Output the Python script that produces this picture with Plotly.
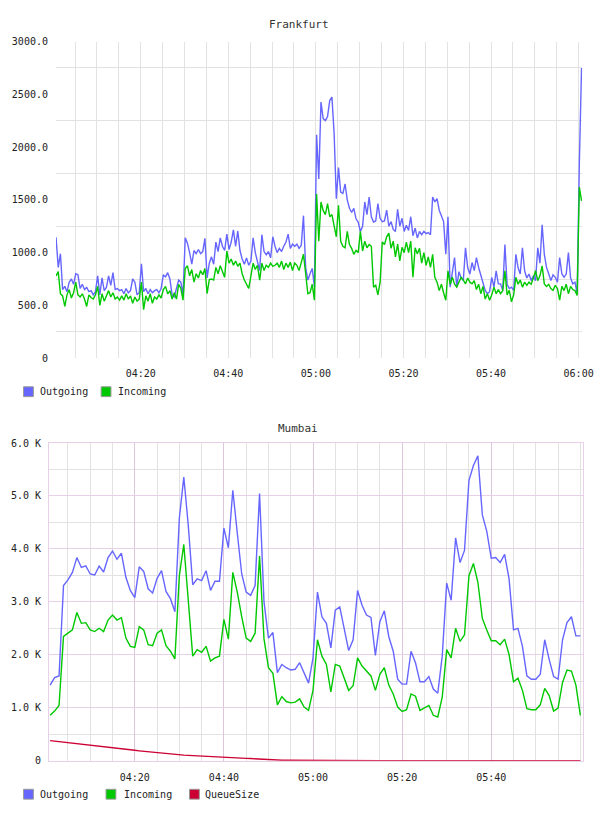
import pandas as pd
import plotly.graph_objects as go

# ---------------- data ----------------
FRA_START = "2024-01-01 04:00:40"   # 30 s samples
FRA_STEP = "30s"
fra_outgoing = [
    1145, 860, 990, 650, 680, 630, 720, 750, 700, 800,
    790, 660, 700, 650, 670, 630, 640, 600, 630, 780,
    600, 760, 640, 670, 780, 690, 810, 650, 660, 640,
    650, 610, 660, 620, 640, 750, 720, 600, 620, 895,
    630, 660, 610, 650, 620, 640, 650, 620, 660, 790,
    770, 810, 750, 600, 580, 650, 740, 720, 600, 1140,
    1090, 1000, 890, 1020, 990, 1030, 990, 1010, 1135, 760,
    900, 960, 890, 1100, 1010, 1140, 1060, 1020, 1175, 1030,
    1100, 1215, 1060, 1205, 1020, 940, 890, 950, 880, 920,
    1140, 1000, 920, 830, 1170, 1010, 980, 1010, 950, 1150,
    1060, 1000, 1040, 1010, 1060, 1100, 1175, 1040, 1080, 1060,
    1080, 1040, 1070, 1350, 860, 740, 800, 850, 674, 2116,
    1697, 2427, 2270, 2250, 2290, 2440, 2473, 2130, 1511, 1806,
    1573, 1560, 1650, 1500, 1420, 1380, 1420, 1320, 1290, 1200,
    1250, 1480, 1360, 1527, 1340, 1290, 1300, 1464, 1325, 1294,
    1300, 1402, 1250, 1294, 1220, 1201, 1410, 1250, 1325, 1201,
    1260, 1210, 1340, 1160, 1232, 1139, 1200, 1170, 1201, 1180,
    1190, 1170, 1527, 1480, 1511, 1402, 1350, 1294, 984, 1340,
    673, 800, 953, 673, 820, 760, 735, 1046, 859, 797,
    906, 830, 953, 859, 790, 735, 642, 611, 630, 766,
    673, 828, 704, 704, 642, 1077, 700, 660, 673, 642,
    984, 859, 797, 1046, 828, 760, 797, 735, 780, 735,
    1046, 900, 1263, 984, 860, 800, 735, 790, 766, 720,
    953, 800, 766, 797, 1000, 760, 704, 720, 611, 1850,
    2750,
]
fra_incoming = [
    780, 820, 610, 590, 490, 600, 650, 570, 620, 720,
    600, 580, 610, 560, 490, 600, 575, 560, 600, 680,
    500, 610, 540, 600, 640, 580, 620, 560, 580, 550,
    590, 550, 610, 560, 590, 520, 580, 540, 560, 720,
    460, 590, 540, 610, 520, 580, 560, 600, 570, 650,
    680, 610, 640, 560, 620, 560, 700, 660, 550, 850,
    875, 780, 840, 720, 800, 760, 830, 790, 850, 611,
    745, 750, 740, 860, 800, 875, 820, 766, 1015, 900,
    940, 880, 920, 870, 900, 800, 740, 700, 660, 780,
    900, 840, 880, 740, 900, 830, 880, 860, 900, 870,
    880, 900, 860, 920, 840, 900, 860, 910, 830, 900,
    880, 830, 900, 985, 800, 611, 620, 700, 549, 1555,
    1108, 1480, 1400, 1360, 1464, 1340, 1360, 1270, 1150, 1449,
    1108, 1060, 1046, 1201, 1077, 1040, 984, 1020, 1000, 1201,
    1015, 1108, 1046, 1077, 1060, 673, 690, 600, 720, 1100,
    1077, 1150, 1185, 1040, 1108, 960, 1080, 921, 1050, 1000,
    1100, 1000, 1108, 766, 1046, 990, 1040, 900, 1000, 880,
    960, 860, 984, 766, 720, 640, 700, 620, 549, 828,
    700, 766, 700, 673, 720, 766, 740, 704, 760, 720,
    704, 735, 650, 700, 611, 680, 560, 611, 549, 600,
    673, 611, 650, 611, 640, 828, 600, 642, 533, 600,
    766, 700, 740, 673, 720, 690, 720, 700, 760, 828,
    735, 780, 875, 704, 680, 700, 660, 642, 690, 660,
    549, 680, 640, 700, 611, 680, 650, 640, 595, 1620,
    1490,
]

MUM_START = "2024-01-01 04:01:00"   # 1 min samples
MUM_STEP = "1min"
mum_outgoing = [
    1428, 1570, 1601, 3309, 3414, 3557, 3836, 3650, 3681, 3526,
    3507, 3675, 3563, 3836, 3960, 3805, 3917, 3464, 3216, 3079,
    3662, 3575, 3247, 3166, 3445, 3588, 3197, 3060, 2812, 4580,
    5357, 4450, 3322, 3433, 3402, 3588, 3216, 3390, 3390, 4394,
    4022, 5108, 4301, 3526, 3184, 3122, 3309, 5046, 3000, 2315,
    2420, 1663, 1818, 1756, 1712, 1726, 1850, 1663, 1465, 1942,
    3184, 2718, 2594, 2129, 2843, 2905, 2470, 2079, 2284, 3215,
    2936, 2750, 2706, 1986, 2625, 2830, 2346, 2067, 1539, 1446,
    1446, 2067, 1850, 1490, 1490, 1589, 1353, 1273, 1974, 3353,
    3029, 4208, 3743, 3972, 5294, 5574, 5760, 4642, 4332, 3823,
    3836, 3743, 3898, 3433, 2470, 2500, 2160, 1601, 1539, 1539,
    1632, 2284, 1912, 1589, 1539, 2284, 2607, 2718, 2358, 2358,
]
mum_incoming = [
    857, 937, 1043, 2346, 2408, 2470, 2799, 2594, 2607, 2470,
    2439, 2501, 2439, 2656, 2749, 2656, 2700, 2315, 2160, 2141,
    2532, 2470, 2191, 2172, 2408, 2470, 2172, 2067, 1924, 3495,
    4084, 2950, 1974, 2098, 2048, 2160, 1880, 1942, 1974, 2669,
    2296, 3557, 3184, 2718, 2315, 2253, 2408, 3867, 2300, 1756,
    1650, 1055, 1210, 1117, 1092, 1105, 1167, 1012, 950, 1328,
    2284, 1974, 1818, 1297, 1818, 1787, 1539, 1328, 1415, 1942,
    1787, 1694, 1601, 1328, 1632, 1756, 1427, 1260, 1012, 931,
    962, 1260, 1217, 950, 994, 1043, 857, 825, 1198, 2098,
    1942, 2501, 2253, 2377, 3494, 3724, 3370, 2687, 2470, 2266,
    2266, 2191, 2296, 2005, 1490, 1558, 1328, 981, 962, 962,
    1055, 1366, 1229, 937, 994, 1477, 1713, 1694, 1427, 857,
]
mum_queuesize = [
    378, 369, 359, 350, 340, 331, 321, 312, 302, 293,
    283, 274, 264, 255, 245, 236, 226, 216, 206, 196,
    186, 177, 168, 159, 150, 140, 130, 120, 110, 106,
    104, 100, 95, 90, 84, 78, 72, 66, 61, 56,
    54, 52, 50, 48, 44, 40, 34, 28, 20, 14,
    10, 8, 8, 7, 6, 6, 5, 5, 4, 4,
    3, 3, 3, 2, 2, 2, 2, 1, 1, 1,
    1, 1, 1, 1, 1, 1, 1, 1, 1, 1,
    0, 0, 0, 0, 0, 0, 0, 0, 0, 0,
    0, 0, 0, 0, 0, 0, 0, 0, 0, 0,
    0, 0, 0, 0, 0, 0, 0, 0, 0, 0,
    0, 0, 0, 0, 0, 0, 0, 0, 0, 0,
]

fra_yticks = [0, 500, 1000, 1500, 2000, 2500, 3000]
fra_yticklabels = ["0", "500.0", "1000.0", "1500.0", "2000.0", "2500.0", "3000.0"]
fra_xticks = ["2024-01-01 04:20", "2024-01-01 04:40", "2024-01-01 05:00",
              "2024-01-01 05:20", "2024-01-01 05:40", "2024-01-01 06:00"]
fra_xticklabels = ["04:20", "04:40", "05:00", "05:20", "05:40", "06:00"]

mum_yticks = [0, 1000, 2000, 3000, 4000, 5000, 6000]
mum_yticklabels = ["0", "1.0 K", "2.0 K", "3.0 K", "4.0 K", "5.0 K", "6.0 K"]
mum_xticks = ["2024-01-01 04:20", "2024-01-01 04:40", "2024-01-01 05:00",
              "2024-01-01 05:20", "2024-01-01 05:40"]
mum_xticklabels = ["04:20", "04:40", "05:00", "05:20", "05:40"]

# ---------------- figure ----------------
W, H = 608, 816
BLUE, GREEN, RED = "#6666ff", "#00c800", "#cc0033"
MONO = "DejaVu Sans Mono"


def px(x):
    return x / W


def py(y):
    return 1 - y / H


fra_t = pd.date_range(FRA_START, periods=len(fra_outgoing), freq=FRA_STEP)
mum_t = pd.date_range(MUM_START, periods=len(mum_outgoing), freq=MUM_STEP)

fig = go.Figure()
fig.add_trace(go.Scatter(x=fra_t, y=fra_outgoing, mode="lines", name="Outgoing",
                         line=dict(color=BLUE, width=1.4), xaxis="x", yaxis="y", showlegend=False))
fig.add_trace(go.Scatter(x=fra_t, y=fra_incoming, mode="lines", name="Incoming",
                         line=dict(color=GREEN, width=1.4), xaxis="x", yaxis="y", showlegend=False))
fig.add_trace(go.Scatter(x=mum_t, y=mum_outgoing, mode="lines", name="Outgoing",
                         line=dict(color=BLUE, width=1.4), xaxis="x2", yaxis="y2", showlegend=False))
fig.add_trace(go.Scatter(x=mum_t, y=mum_incoming, mode="lines", name="Incoming",
                         line=dict(color=GREEN, width=1.4), xaxis="x2", yaxis="y2", showlegend=False))
fig.add_trace(go.Scatter(x=mum_t, y=mum_queuesize, mode="lines", name="QueueSize",
                         line=dict(color=RED, width=1.4), xaxis="x2", yaxis="y2", showlegend=False))

tickfont = dict(family=MONO, size=10, color="#222")
GRID = "#e2e2e2"
PINK_H = "#e8d0e8"
PINK_V = "#dcc6dc"

fig.update_layout(
    width=W, height=H,
    margin=dict(l=0, r=0, t=0, b=0),
    paper_bgcolor="white", plot_bgcolor="white",
    xaxis=dict(
        domain=[px(57), px(593)],
        type="date",
        range=["2024-01-01 04:00:39", "2024-01-01 06:00:50"],
        tickmode="array", tickvals=fra_xticks, ticktext=fra_xticklabels,
        ticks="outside", ticklen=6, tickcolor="rgba(0,0,0,0)",
        tickfont=tickfont, showgrid=True, gridcolor=GRID, gridwidth=1,
        minor=dict(dtick=300000, tick0="2024-01-01 04:00", showgrid=True,
                   gridcolor=GRID, gridwidth=1, ticks=""),
        showline=False, zeroline=False, anchor="y", fixedrange=True,
    ),
    yaxis=dict(
        domain=[py(358), py(37)],
        range=[0, 3000],
        tickmode="array", tickvals=fra_yticks, ticktext=fra_yticklabels,
        ticks="outside", ticklen=5, tickcolor="rgba(0,0,0,0)",
        tickfont=tickfont, showgrid=False,
        minor=dict(tickvals=[250, 750, 1250, 1750, 2250, 2750], showgrid=True,
                   gridcolor=GRID, gridwidth=1, ticks=""),
        showline=False, zeroline=False, anchor="x", fixedrange=True,
    ),
    xaxis2=dict(
        domain=[px(50), px(594)],
        type="date",
        range=["2024-01-01 04:00:46", "2024-01-01 06:00:39"],
        tickmode="array", tickvals=mum_xticks, ticktext=mum_xticklabels,
        ticks="outside", ticklen=7, tickcolor="rgba(0,0,0,0)",
        tickfont=tickfont, showgrid=True, gridcolor=PINK_V, gridwidth=1,
        minor=dict(dtick=300000, tick0="2024-01-01 04:00", showgrid=True,
                   gridcolor=GRID, gridwidth=1, ticks=""),
        showline=True, linecolor=PINK_H, linewidth=1, mirror=True,
        zeroline=False, anchor="y2", fixedrange=True,
    ),
    yaxis2=dict(
        domain=[py(766), py(444)],
        range=[0, 6000],
        tickmode="array", tickvals=mum_yticks, ticktext=mum_yticklabels,
        ticks="outside", ticklen=5, tickcolor="rgba(0,0,0,0)",
        tickfont=tickfont, showgrid=True, gridcolor=PINK_H, gridwidth=1,
        minor=dict(tickvals=[500, 1500, 2500, 3500, 4500, 5500], showgrid=True,
                   gridcolor=GRID, gridwidth=1, ticks=""),
        showline=True, linecolor=PINK_H, linewidth=1, mirror=True,
        zeroline=False, anchor="x2", fixedrange=True,
    ),
)

# titles
annotations = [
    dict(text="Frankfurt", x=px(304), y=py(20), xref="paper", yref="paper",
         xanchor="center", yanchor="middle", showarrow=False,
         font=dict(family=MONO, size=11, color="#333")),
    dict(text="Mumbai", x=px(303), y=py(429), xref="paper", yref="paper",
         xanchor="center", yanchor="middle", showarrow=False,
         font=dict(family=MONO, size=11, color="#333")),
]
shapes = []

# legends (colour swatch + label)
legend_items = [
    # (square left x, center y, text x, label, colour)
    (24, 392, 39, "Outgoing", BLUE),
    (103, 392, 118, "Incoming", GREEN),
    (24, 800, 39, "Outgoing", BLUE),
    (108, 800, 124, "Incoming", GREEN),
    (193, 800, 207, "QueueSize", RED),
]
for sx, cy, tx, label, col in legend_items:
    shapes.append(dict(type="rect", xref="paper", yref="paper",
                       x0=px(sx), x1=px(sx + 10), y0=py(cy + 5), y1=py(cy - 5),
                       fillcolor=col, line=dict(color="#999", width=1)))
    annotations.append(dict(text=label, x=px(tx), y=py(cy), xref="paper", yref="paper",
                            xanchor="left", yanchor="middle", showarrow=False,
                            font=dict(family=MONO, size=10, color="#222")))

fig.update_layout(annotations=annotations, shapes=shapes)

fig.write_html("out.html")
